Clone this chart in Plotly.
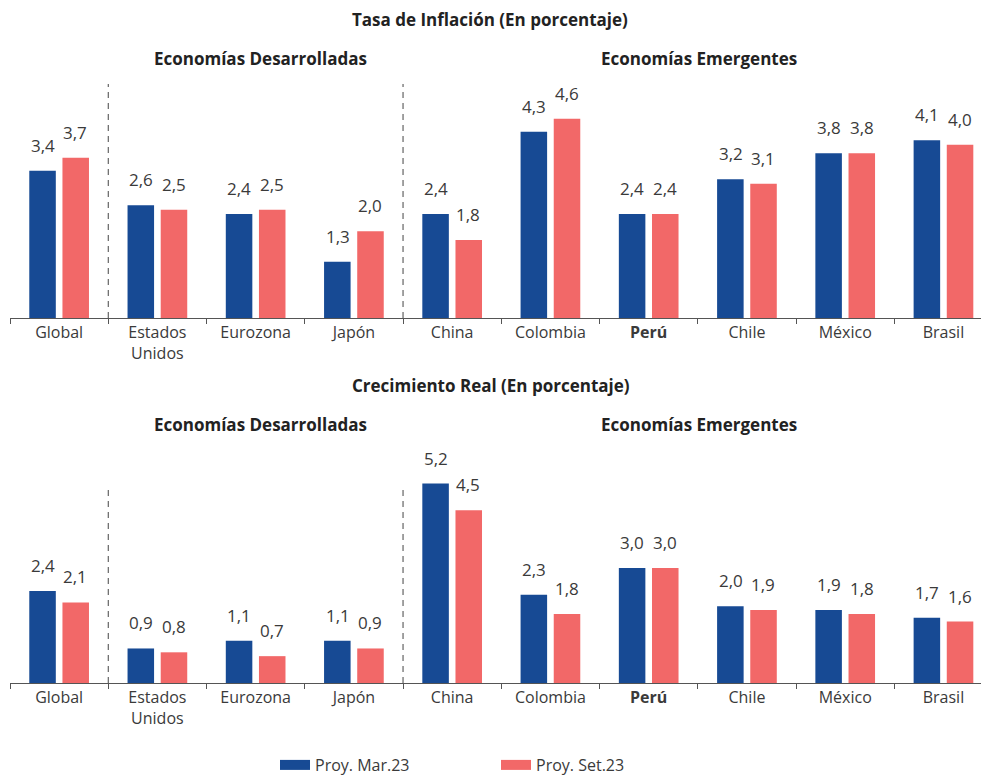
import plotly.graph_objects as go

categories = ["Global", "Estados<br>Unidos", "Eurozona", "Japón", "China",
              "Colombia", "<b>Perú</b>", "Chile", "México", "Brasil"]
infl_mar23 = [3.4, 2.6, 2.4, 1.3, 2.4, 4.3, 2.4, 3.2, 3.8, 4.1]
infl_set23 = [3.7, 2.5, 2.5, 2.0, 1.8, 4.6, 2.4, 3.1, 3.8, 4.0]
crec_mar23 = [2.4, 0.9, 1.1, 1.1, 5.2, 2.3, 3.0, 2.0, 1.9, 1.7]
crec_set23 = [2.1, 0.8, 0.7, 0.9, 4.5, 1.8, 3.0, 1.9, 1.8, 1.6]
series_names = ["Proy. Mar.23", "Proy. Set.23"]

BLUE = "#174A94"
RED = "#F26868"
TXT = "#3a3a3a"
FONT = "Open Sans"

def fmt(v):
    return f"{v:.1f}".replace(".", ",")

fig = go.Figure()
for vals, color, xa, ya, shift in [
    (infl_mar23, BLUE, "x", "y", -16.3), (infl_set23, RED, "x", "y", 16.3),
    (crec_mar23, BLUE, "x2", "y2", -16.3), (crec_set23, RED, "x2", "y2", 16.3),
]:
    fig.add_trace(go.Bar(
        x=categories, y=vals,
        marker=dict(color=color, line=dict(width=0)),
        xaxis=xa, yaxis=ya, showlegend=False, cliponaxis=False,
        hoverinfo="skip",
    ))
    for c, v in zip(categories, vals):
        fig.add_annotation(x=c, y=v, xref=xa, yref=ya, text=fmt(v),
                           showarrow=False, xanchor="center", yanchor="bottom",
                           xshift=shift, yshift=12,
                           font=dict(size=17, color=TXT, family=FONT))

for name, color in zip(series_names, [BLUE, RED]):
    fig.add_trace(go.Scatter(x=[None], y=[None], mode="lines", name=name,
                             line=dict(color=color, width=10),
                             xaxis="x", yaxis="y"))

h = 779.0
W = 971.0  # plot-area width (left margin 10)
top_dom = [1 - 318 / h, 1 - 84 / h]
bot_dom = [1 - 683 / h, 1 - 472 / h]

def px(xpix):
    return (xpix - 10) / W

xcommon = dict(type="category", range=[-0.5, 9.382], showline=True,
               linecolor="#555", linewidth=1, ticks="outside",
               tickson="boundaries", ticklen=5, tickcolor="#555",
               tickfont=dict(size=16, color=TXT, family=FONT),
               showgrid=False, zeroline=False, fixedrange=True)
ycommon = dict(visible=False, showgrid=False, zeroline=False, fixedrange=True)

fig.update_layout(
    width=981, height=779,
    margin=dict(l=10, r=0, t=0, b=0, autoexpand=False),
    paper_bgcolor="white", plot_bgcolor="white",
    barmode="group", bargap=0.325, bargroupgap=0.2,
    font=dict(family=FONT, color=TXT),
    xaxis=dict(**xcommon, domain=[0, 1], anchor="y"),
    yaxis=dict(**ycommon, domain=top_dom, range=[0, 5.4], anchor="x"),
    xaxis2=dict(**xcommon, domain=[0, 1], anchor="y2"),
    yaxis2=dict(**ycommon, domain=bot_dom, range=[0, 5.5], anchor="x2"),
    legend=dict(orientation="h", x=px(275), xanchor="left",
                y=(779 - 765) / 779, yanchor="middle",
                entrywidth=176, entrywidthmode="pixels",
                font=dict(size=16, color=TXT, family=FONT),
                bgcolor="rgba(0,0,0,0)", traceorder="normal"),
)

# dashed separators between groups
for xa, ya, ytop in [("x", "y", 1.0), ("x2", "y2", 0.93)]:
    for xb in [0.5, 3.5]:
        fig.add_shape(type="line", xref=xa, yref=f"{ya} domain",
                      x0=xb, x1=xb, y0=0, y1=ytop,
                      line=dict(color="#444", width=1, dash="6px,5px"))

def ann(text, x, y):
    fig.add_annotation(text=f"<b>{text}</b>", x=px(x), y=y, xref="paper",
                       yref="paper", showarrow=False, xanchor="center",
                       yanchor="middle",
                       font=dict(size=17, color="#222", family=FONT))

ann("Tasa de Inflación (En porcentaje)", 490, 1 - 20 / h)
ann("Economías Desarrolladas", 260.5, 1 - 58 / h)
ann("Economías Emergentes", 698.5, 1 - 58 / h)
ann("Crecimiento Real (En porcentaje)", 491, 1 - 385 / h)
ann("Economías Desarrolladas", 260.5, 1 - 424 / h)
ann("Economías Emergentes", 698.5, 1 - 424 / h)

fig.write_html("out.html")
